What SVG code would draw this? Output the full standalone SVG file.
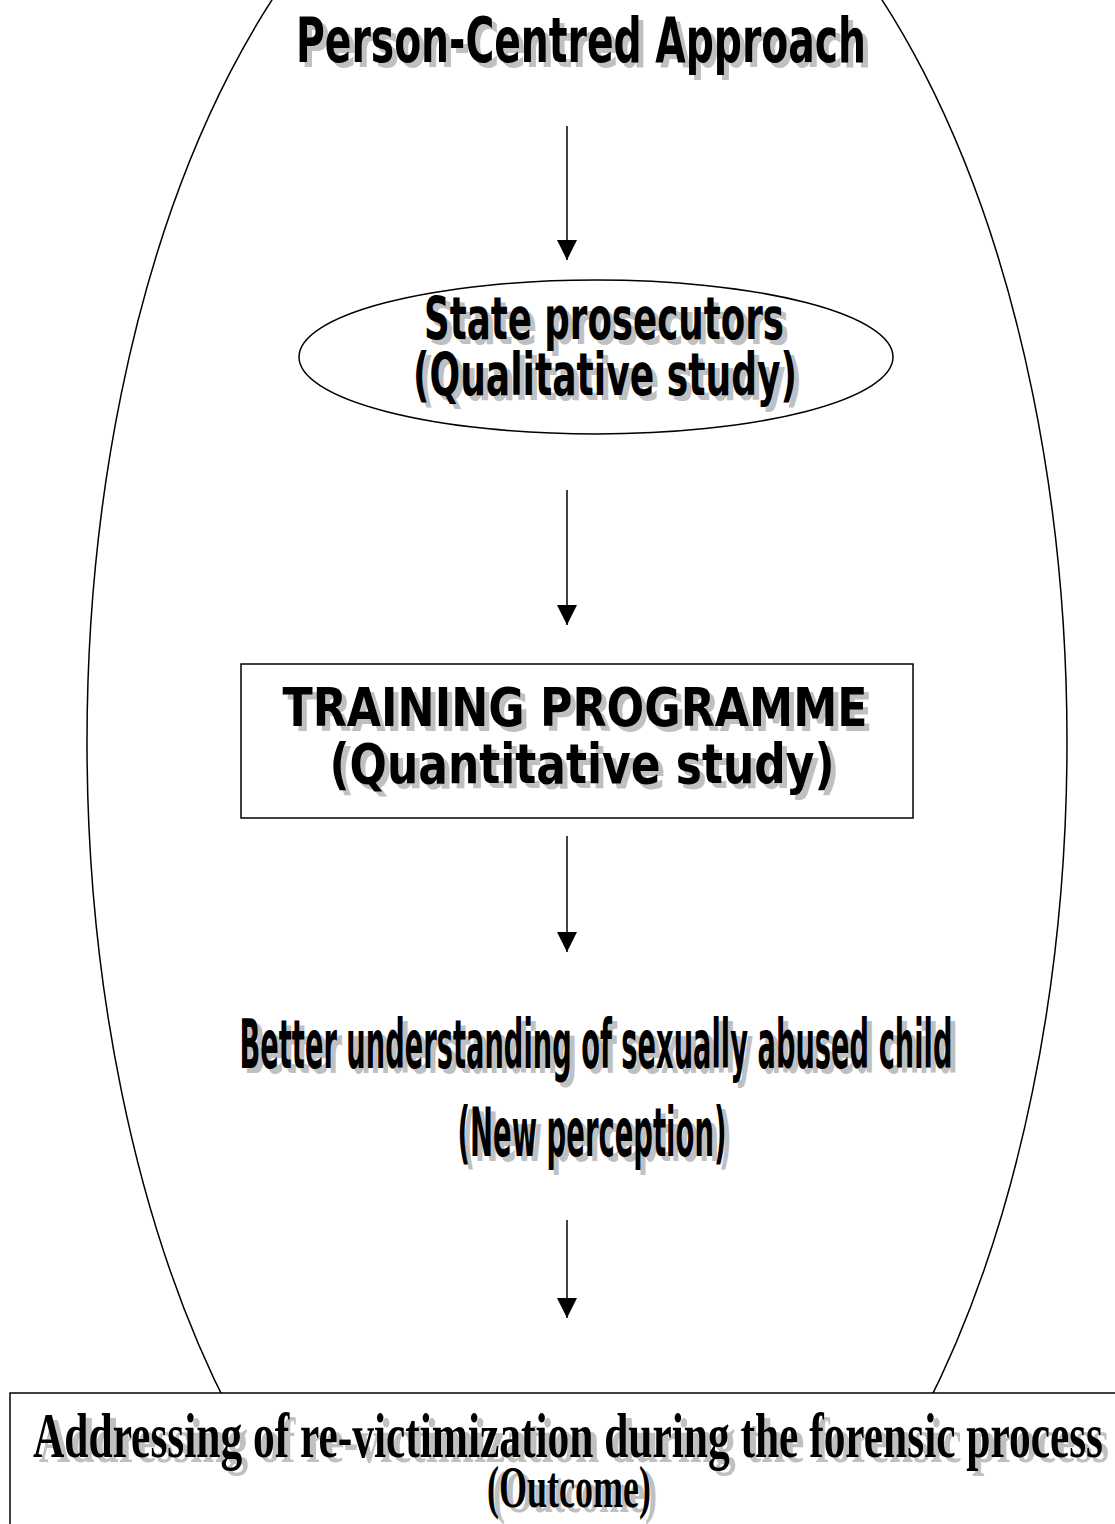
<svg xmlns="http://www.w3.org/2000/svg" width="1115" height="1524" viewBox="0 0 1115 1524">
<style>
.ln{fill:none;stroke:#000;stroke-width:1.5}
.box{fill:#fff;stroke:#000;stroke-width:1.5}
.sans{font-family:"DejaVu Sans","Verdana",sans-serif;font-weight:bold;text-anchor:middle}
.serif{font-family:"Liberation Serif","Times New Roman",serif;font-weight:bold;text-anchor:middle}
.sh{fill:#c0c0c0}
.fg{fill:#000}
</style>
<defs>
<marker id="ah" viewBox="0 0 20 20" refX="20" refY="10" markerWidth="20" markerHeight="20" markerUnits="userSpaceOnUse" orient="auto">
<path d="M0,0 L20,10 L0,20 Z" fill="#000"/>
</marker>
</defs>
<rect width="1115" height="1524" fill="#fff"/>
<g id="outer-ellipse">
<ellipse class="ln" cx="577" cy="742" rx="490" ry="948"/>
</g>
<g id="person-centred">
<text class="sans sh" x="586" y="67" font-size="62" textLength="570" lengthAdjust="spacingAndGlyphs">Person-Centred Approach</text>
<text class="sans fg" x="581" y="62" font-size="62" textLength="570" lengthAdjust="spacingAndGlyphs">Person-Centred Approach</text>
</g>
<g id="state-prosecutors">
<ellipse class="box" cx="596" cy="357" rx="297" ry="77"/>
<text class="sans sh" x="609" y="344" font-size="58" textLength="360" lengthAdjust="spacingAndGlyphs">State prosecutors</text>
<text class="sans fg" x="604" y="339" font-size="58" textLength="360" lengthAdjust="spacingAndGlyphs">State prosecutors</text>
<text class="sans sh" x="610" y="400" font-size="58" textLength="384" lengthAdjust="spacingAndGlyphs">(Qualitative study)</text>
<text class="sans fg" x="605" y="395" font-size="58" textLength="384" lengthAdjust="spacingAndGlyphs">(Qualitative study)</text>
</g>
<g id="training-programme">
<rect class="box" x="241" y="664" width="672" height="154"/>
<text class="sans sh" x="580" y="731" font-size="53" textLength="585" lengthAdjust="spacingAndGlyphs">TRAINING PROGRAMME</text>
<text class="sans fg" x="575" y="726" font-size="53" textLength="585" lengthAdjust="spacingAndGlyphs">TRAINING PROGRAMME</text>
<text class="sans sh" x="587" y="788" font-size="55" textLength="505" lengthAdjust="spacingAndGlyphs">(Quantitative study)</text>
<text class="sans fg" x="582" y="783" font-size="55" textLength="505" lengthAdjust="spacingAndGlyphs">(Quantitative study)</text>
</g>
<g id="better-understanding">
<text class="sans sh" x="601" y="1073" font-size="68" textLength="713" lengthAdjust="spacingAndGlyphs">Better understanding of sexually abused child</text>
<text class="sans fg" x="596" y="1068" font-size="68" textLength="713" lengthAdjust="spacingAndGlyphs">Better understanding of sexually abused child</text>
<text class="sans sh" x="597" y="1161" font-size="68" textLength="269" lengthAdjust="spacingAndGlyphs">(New perception)</text>
<text class="sans fg" x="592" y="1156" font-size="68" textLength="269" lengthAdjust="spacingAndGlyphs">(New perception)</text>
</g>
<g id="outcome">
<rect class="box" x="10" y="1393" width="1120" height="140"/>
<text class="serif sh" x="574" y="1462" font-size="64" textLength="1070" lengthAdjust="spacingAndGlyphs">Addressing of re-victimization during the forensic process</text>
<text class="serif fg" x="568" y="1457" font-size="64" textLength="1070" lengthAdjust="spacingAndGlyphs">Addressing of re-victimization during the forensic process</text>
<text class="serif sh" x="575" y="1512" font-size="60" textLength="164" lengthAdjust="spacingAndGlyphs">(Outcome)</text>
<text class="serif fg" x="569" y="1507" font-size="60" textLength="164" lengthAdjust="spacingAndGlyphs">(Outcome)</text>
</g>
<g id="connectors">
<line class="ln" x1="567" y1="126" x2="567" y2="260" marker-end="url(#ah)"/>
<line class="ln" x1="567" y1="490" x2="567" y2="625" marker-end="url(#ah)"/>
<line class="ln" x1="567" y1="836" x2="567" y2="952" marker-end="url(#ah)"/>
<line class="ln" x1="567" y1="1220" x2="567" y2="1318" marker-end="url(#ah)"/>
</g>
</svg>
